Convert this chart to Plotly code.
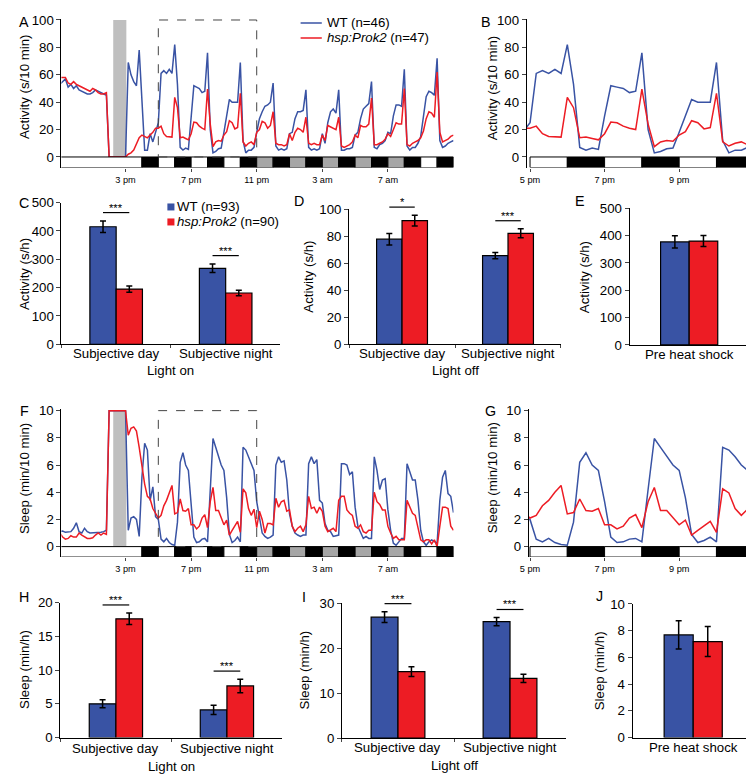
import numpy as np
import plotly.graph_objects as go

W, H = 754, 782
# the photographed page shows the figure shrunk and shifted a little:
# picture_x = 16 + 0.979 * fig_x, picture_y = 15 + 0.981 * fig_y.
# positions below are given in picture pixels and mapped back.
SX, OX = 0.979, 16
SY, OY = 0.981, 15
FS = 1.02
BLUE = '#3953A4'
RED = '#ED1C24'
FONT = 'Liberation Sans, Arial, sans-serif'

# ---------- time course data, 10 min bins starting 11 am ----------
# activity (s/10 min)
act_wt_pre = [53, 55, 57, 51, 53, 50, 52, 49, 48, 47, 46, 46, 47, 49, 48, 47, 46, 45]
act_mut_pre = [58, 58, 58, 54, 53, 55, 53, 52, 51, 50, 49, 48, 50, 49, 47, 46, 46, 47]
act_wt_hs = [0, 0, 0, 0, 0, 0, 0]
act_mut_hs = [0, 0, 0, 0, 0, 0, 0]
act_wt_post = [69, 60, 55, 52, 78, 40, 5, 5, 17, 11, 19]
act_mut_post = [2, 3, 5, 10, 14, 16, 15, 14, 16, 18, 21]
# 5 pm - 11 pm (panel B)
act_wt_zoom = [25, 61, 63, 61, 64, 61, 82, 53, 7, 5, 6.5, 5.5,
               30, 52, 51, 50, 47, 48, 76, 20, 3, 4, 6, 6.5,
               18, 30, 42, 40, 40, 40, 69, 12, 3, 5, 5, 7, 18]
act_mut_zoom = [21, 22.5, 17, 15, 14.5, 14.5, 43.5, 36, 14, 14.5, 13.5, 12.5,
                17, 25.5, 25, 22.5, 21, 20, 49.5, 24, 7.5, 11, 12, 11.5,
                16, 18.5, 26.5, 25, 20.5, 21.5, 46.5, 11, 8, 10, 11, 9, 18]
act_wt_night = [28, 33, 37, 38, 40, 54, 8, 5, 6, 5, 6,
                17, 18, 28, 33, 33, 34, 49, 7, 5, 6, 5, 6,
                17, 10, 25, 33, 35, 32, 49, 5, 5, 6, 6, 7,
                16, 18, 28, 35, 37, 39, 55, 7, 6, 9, 10, 12,
                18, 17, 30, 38, 38, 37, 64, 8, 5, 7, 7, 10,
                15, 30, 44, 48, 47, 45, 72, 12, 7, 8, 10, 11, 12]
act_mut_night = [20, 26, 25, 21, 23, 33, 10, 9, 9, 8, 9,
                 17, 12, 18, 21, 20, 18, 29, 10, 9, 10, 9, 9,
                 16, 12, 23, 22, 21, 20, 29, 8, 7, 8, 9, 11,
                 16, 14, 23, 22, 22, 24, 43, 9, 9, 10, 11, 13,
                 17, 15, 20, 25, 24, 24, 50, 9, 8, 10, 11, 12,
                 14, 19, 28, 33, 32, 29, 62, 18, 11, 12, 13, 15, 16]

# sleep (min/10 min)
sl_wt_pre = [1.1, 1.15, 1.05, 1.1, 1.1, 1.35, 1.75, 1.1, 1.0, 1.35, 1.1, 1.0, 1.0, 1.05, 1.0, 1.05, 1.1, 1.2]
sl_mut_pre = [1.0, 0.7, 0.55, 0.6, 0.8, 0.7, 0.7, 1.0, 0.85, 0.75, 0.6, 0.6, 0.65, 0.85, 1.0, 0.85, 1.0, 0.9]
sl_wt_hs = [10, 10, 10, 10, 10, 10, 10]
sl_mut_hs = [10, 10, 10, 10, 10, 10, 10]
sl_wt_post = [1.2, 2.1, 2.2, 2.0, 0.75, 5.1, 7.6, 7.1, 3.4, 4.4, 2.2]
sl_mut_post = [8.2, 8.7, 8.8, 8.5, 7.3, 5.9, 4.6, 3.7, 3.5, 2.8, 2.5]
sl_wt_zoom = [2.0, 0.55, 0.35, 0.6, 0.3, 0.15, 0.1, 1.8, 6.2, 6.9, 6.0, 5.6,
              3.3, 0.7, 0.3, 0.35, 0.55, 0.6, 0.35, 4.2, 7.95, 7.3, 6.6, 6.0,
              5.6, 3.6, 0.9, 0.3, 0.45, 0.7, 0.35, 7.3, 7.1, 6.6, 6.0, 5.6, 3.3]
sl_mut_zoom = [2.1, 2.3, 3.0, 3.4, 4.0, 4.5, 2.4, 2.5, 3.5, 2.65, 2.6, 2.8,
               1.6, 1.6, 1.3, 1.5, 2.1, 2.35, 1.4, 3.3, 4.35, 2.65, 2.65, 2.15,
               1.6, 1.95, 0.85, 1.2, 1.55, 1.85, 1.05, 4.25, 3.95, 2.8, 2.3, 2.75, 1.4]
sl_wt_night = [2.0, 1.0, 0.75, 0.6, 0.7, 0.85, 6.0, 6.6, 6.2, 6.3, 4.9,
               2.4, 1.5, 1.0, 0.85, 0.75, 0.85, 0.85, 6.1, 6.6, 6.1, 6.4, 3.4,
               3.2, 1.7, 1.2, 1.1, 0.75, 0.8, 0.85, 6.1, 6.1, 6.0, 5.3, 5.5,
               2.9, 1.5, 1.0, 0.6, 0.75, 0.6, 0.6, 6.6, 5.6, 4.2, 4.9, 5.0,
               2.7, 1.2, 0.25, 0.1, 0.35, 0.6, 0.6, 6.1, 5.5, 4.9, 4.9, 3.4,
               1.2, 0.35, 0.1, 0.35, 0.5, 0.4, 0.25, 3.4, 5.1, 5.6, 3.9, 3.7, 2.5]
sl_mut_night = [2.6, 2.0, 1.0, 1.7, 1.7, 1.6, 3.55, 2.9, 3.3, 3.4, 2.6,
                2.7, 1.5, 1.1, 1.35, 1.5, 1.1, 1.6, 3.7, 2.8, 2.9, 2.45, 2.9,
                2.6, 1.5, 1.1, 1.2, 1.35, 1.1, 3.4, 3.7, 3.7, 2.7, 2.45, 2.3,
                1.5, 1.35, 1.6, 1.1, 1.0, 1.2, 1.2, 4.0, 3.3, 3.1, 2.7, 2.7,
                1.5, 1.0, 0.6, 0.75, 0.5, 0.5, 0.5, 3.4, 2.9, 2.45, 2.3, 1.35,
                0.5, 0.35, 0.5, 0.5, 0.2, 0.5, 0.0, 1.5, 2.9, 2.9, 2.8, 1.5, 1.2]

act_wt = act_wt_pre + act_wt_hs + act_wt_post + act_wt_zoom + act_wt_night
act_mut = act_mut_pre + act_mut_hs + act_mut_post + act_mut_zoom + act_mut_night
sl_wt = sl_wt_pre + sl_wt_hs + sl_wt_post + sl_wt_zoom + sl_wt_night
sl_mut = sl_mut_pre + sl_mut_hs + sl_mut_post + sl_mut_zoom + sl_mut_night
hours = np.arange(len(act_wt)) / 6.0   # hours after 11 am

# light schedule, one entry per hour from 11 am: W light, B dark, G subjective day in dark
light_kind = ['W', 'W', 'W', 'W', 'W', 'B', 'W', 'B', 'W', 'B', 'W', 'B',
              'G', 'B', 'G', 'B', 'G', 'B', 'G', 'B', 'G', 'B', 'W', 'B']
heat_shock = [3.25, 4.05]
zoom_window = [6, 12]
time_ticks = [4, 8, 12, 16, 20]
time_labels = ['3 pm', '7 pm', '11 pm', '3 am', '7 am']
zoom_ticks = [6, 8, 10]
zoom_labels = ['5 pm', '7 pm', '9 pm']

# ---------- bar chart data (mean, s.e.m.) ----------
cats = ['Subjective day', 'Subjective night']
pre_cat = ['Pre heat shock']
act_on_wt, act_on_wt_err = [415, 268], [20, 15]
act_on_mut, act_on_mut_err = [195, 181], [11, 10]
act_off_wt, act_off_wt_err = [77.8, 65.6], [4.3, 2.3]
act_off_mut, act_off_mut_err = [91.6, 82.2], [4.0, 3.3]
act_pre_wt, act_pre_wt_err = [377], [22]
act_pre_mut, act_pre_mut_err = [380], [20]
sl_on_wt, sl_on_wt_err = [5.0, 4.1], [0.6, 0.7]
sl_on_mut, sl_on_mut_err = [17.6, 7.65], [0.85, 1.0]
sl_off_wt, sl_off_wt_err = [26.9, 25.9], [1.2, 0.9]
sl_off_mut, sl_off_mut_err = [14.8, 13.3], [1.1, 0.9]
sl_pre_wt, sl_pre_wt_err = [7.68], [1.06]
sl_pre_mut, sl_pre_mut_err = [7.18], [1.12]
sig_act_on = ['***', '***']
sig_act_off = ['*', '***']
sig_sl_on = ['***', '***']
sig_sl_off = ['***', '***']


def xp(p):
    return (p - OX) / SX / W


def yp(p):
    return 1 - (p - OY) / SY / H


fig = go.Figure()
shapes = []
annotations = []
layout = {}


def ann(x, y, text, size=13, **kw):
    d = dict(x=xp(x), y=yp(y), xref='paper', yref='paper', text=text, showarrow=False,
             xanchor='center', yanchor='middle',
             font=dict(family=FONT, size=size * FS, color='black'))
    d.update(kw)
    annotations.append(d)


def yaxis_cfg(px_top, px_zero, top_val, lo, hi, tickvals):
    scale = (px_zero - px_top) / top_val
    return dict(domain=[yp(px_zero - lo * scale), yp(px_zero - hi * scale)], range=[lo, hi],
                tickvals=tickvals, ticks='outside', ticklen=4, tickwidth=1, showline=True,
                linecolor='black', linewidth=1, showgrid=False, zeroline=False,
                tickfont=dict(family=FONT, size=13 * FS, color='black'))


def time_panel(n, xdom, xrange, ycfg, wt, mut, ticks, labels, full, top_val):
    xa = 'x%d' % n if n > 1 else 'x'
    ya = 'y%d' % n if n > 1 else 'y'
    ycfg['anchor'] = xa
    layout['xaxis%d' % n if n > 1 else 'xaxis'] = dict(
        domain=[xp(xdom[0]), xp(xdom[1])], range=xrange, showline=False, showgrid=False,
        zeroline=False, tickvals=ticks, ticktext=labels, ticks='outside', ticklen=3,
        tickfont=dict(family=FONT, size=9 * FS, color='black'), anchor=ya)
    layout['yaxis%d' % n if n > 1 else 'yaxis'] = ycfg
    fig.add_trace(go.Scatter(x=hours, y=wt, mode='lines', line=dict(color=BLUE, width=1.5),
                             xaxis=xa, yaxis=ya, showlegend=False))
    fig.add_trace(go.Scatter(x=hours, y=mut, mode='lines', line=dict(color=RED, width=1.5),
                             xaxis=xa, yaxis=ya, showlegend=False))
    y_lo = ycfg['range'][0]
    # light / dark bar under the x axis
    segs = []
    for h, k in enumerate(light_kind):
        if not full and not (zoom_window[0] <= h < zoom_window[1]):
            continue
        if segs and segs[-1][2] == k and segs[-1][1] == h:
            segs[-1][1] = h + 1
        else:
            segs.append([h, h + 1, k])
    fill = {'W': 'white', 'B': 'black', 'G': '#A6A6A6'}
    for s0, s1, k in segs:
        shapes.append(dict(type='rect', xref=xa, yref=ya, x0=s0, x1=s1, y0=y_lo, y1=0,
                           fillcolor=fill[k], line=dict(color='black', width=1)))
    if full:
        shapes.append(dict(type='rect', xref=xa, yref=ya, x0=heat_shock[0], x1=heat_shock[1],
                           y0=0, y1=top_val, fillcolor='#BFBFBF', line=dict(width=0), layer='below'))
        shapes.append(dict(type='rect', xref=xa, yref=ya, x0=zoom_window[0], x1=zoom_window[1],
                           y0=0, y1=top_val, line=dict(color='#444444', width=1, dash='dash')))


# A and B: activity
time_panel(1, [60, 448.5], [0.09, 24.0], yaxis_cfg(20, 157, 100, -7.7, 101, [0, 20, 40, 60, 80, 100]),
           act_wt, act_mut, time_ticks, time_labels, True, 100)
time_panel(2, [521, 746], [5.91, 12.0], yaxis_cfg(20, 157, 100, -7.7, 101, [0, 20, 40, 60, 80, 100]),
           act_wt, act_mut, zoom_ticks, zoom_labels, False, 100)
# F and G: sleep
time_panel(6, [60, 448.5], [0.09, 24.0], yaxis_cfg(410.7, 546.7, 10, -0.77, 10.12, [0, 2, 4, 6, 8, 10]),
           sl_wt, sl_mut, time_ticks, time_labels, True, 10)
time_panel(7, [523, 746], [5.965, 12.0], yaxis_cfg(410.7, 546.7, 10, -0.77, 10.12, [0, 2, 4, 6, 8, 10]),
           sl_wt, sl_mut, zoom_ticks, zoom_labels, False, 10)


def bar_panel(n, xdom, ytop, yzero, ymax, step, categories, wt, wt_err, mut, mut_err,
              label_y, sig=None):
    xa, ya = 'x%d' % n, 'y%d' % n
    multi = len(categories) > 1
    layout['xaxis%d' % n] = dict(domain=[xp(xdom[0]), xp(xdom[1])], range=[-0.5, len(categories) - 0.5],
                                 showline=True, linecolor='black', linewidth=1, showgrid=False,
                                 ticks='outside' if multi else '', tickson='boundaries', ticklen=3,
                                 showticklabels=False, anchor=ya)
    layout['yaxis%d' % n] = dict(domain=[yp(yzero), yp(ytop)], range=[0, ymax],
                                 tickvals=list(np.arange(0, ymax + step / 2, step)), ticks='outside',
                                 ticklen=4, showline=True, linecolor='black', linewidth=1, showgrid=False,
                                 zeroline=False, tickfont=dict(family=FONT, size=13 * FS, color='black'),
                                 anchor=xa)
    for vals, errs, col in [(wt, wt_err, BLUE), (mut, mut_err, RED)]:
        fig.add_trace(go.Bar(x=categories, y=vals, xaxis=xa, yaxis=ya, showlegend=False,
                             marker=dict(color=col, line=dict(color='black', width=1.2)),
                             error_y=dict(type='data', array=errs, color='black', thickness=1.5, width=3)))
    cw = (xdom[1] - xdom[0]) / len(categories)
    for k, c_name in enumerate(categories):
        c = xdom[0] + (k + 0.5) * cw
        ann(c, label_y, c_name)
        if sig:
            top = max(wt[k] + wt_err[k], mut[k] + mut_err[k]) + 0.06 * ymax
            ypx = yzero - top * (yzero - ytop) / ymax
            shapes.append(dict(type='line', xref='paper', yref='paper', x0=xp(c - 0.12 * cw),
                               x1=xp(c + 0.12 * cw), y0=yp(ypx), y1=yp(ypx),
                               line=dict(color='black', width=1.2)))
            ann(c, ypx, sig[k], size=11, yanchor='bottom', yshift=-3)


bar_panel(3, [60, 277], 202.7, 344.3, 500, 100, cats, act_on_wt, act_on_wt_err,
          act_on_mut, act_on_mut_err, 354, sig_act_on)
bar_panel(4, [345, 555], 209.3, 344.3, 100, 20, cats, act_off_wt, act_off_wt_err,
          act_off_mut, act_off_mut_err, 354, sig_act_off)
bar_panel(5, [623, 741], 208.3, 345, 500, 100, pre_cat, act_pre_wt, act_pre_wt_err,
          act_pre_mut, act_pre_mut_err, 355)
bar_panel(8, [59, 279], 602.7, 737.7, 20, 5, cats, sl_on_wt, sl_on_wt_err,
          sl_on_mut, sl_on_mut_err, 749, sig_sl_on)
bar_panel(9, [338, 560], 603.3, 738.3, 30, 10, cats, sl_off_wt, sl_off_wt_err,
          sl_off_mut, sl_off_mut_err, 748, sig_sl_off)
bar_panel(10, [626, 746], 604, 737.7, 10, 2, pre_cat, sl_pre_wt, sl_pre_wt_err,
          sl_pre_mut, sl_pre_mut_err, 748)

# axis titles
for x, y, t in [(24, 87, 'Activity (s/10 min)'), (488, 88, 'Activity (s/10 min)'),
                (24, 274, 'Activity (s/h)'), (305, 277, 'Activity (s/h)'), (579, 277, 'Activity (s/h)'),
                (24, 479, 'Sleep (min/10 min)'), (488, 478, 'Sleep (min/10 min)'),
                (24, 670, 'Sleep (min/h)'), (301, 670, 'Sleep (min/h)'), (594, 671, 'Sleep (min/h)')]:
    ann(x, y, t, textangle=-90)

# group labels under the bar charts
ann(168.5, 371, 'Light on')
ann(450, 371, 'Light off')
ann(169, 767, 'Light on')
ann(449, 766, 'Light off')

# panel letters
for x, y, t in [(23, 22, 'A'), (481, 22, 'B'), (23, 203, 'C'), (295, 201, 'D'), (574, 201, 'E'),
                (23, 411, 'F'), (485, 411, 'G'), (23, 597, 'H'), (300, 597, 'I'), (593, 596, 'J')]:
    ann(x, y, t, size=14)

# legend for time courses
for y, col, t in [(23, BLUE, 'WT (n=46)'), (38, RED, '<i>hsp:Prok2</i> (n=47)')]:
    shapes.append(dict(type='line', xref='paper', yref='paper', x0=xp(297), x1=xp(318),
                       y0=yp(y), y1=yp(y), line=dict(color=col, width=1.5)))
    ann(321, y, t, xanchor='left')

# legend for bar charts
for y, col, t in [(207, BLUE, 'WT (n=93)'), (222, RED, '<i>hsp:Prok2</i> (n=90)')]:
    shapes.append(dict(type='rect', xref='paper', yref='paper', x0=xp(165), x1=xp(172),
                       y0=yp(y + 3.5), y1=yp(y - 3.5), fillcolor=col, line=dict(width=0)))
    ann(173, y, t, xanchor='left')

fig.update_layout(width=W, height=H, margin=dict(l=0, r=0, t=0, b=0),
                  paper_bgcolor='white', plot_bgcolor='white',
                  barmode='group', bargap=0.52, bargroupgap=0,
                  font=dict(family=FONT, size=13, color='black'),
                  shapes=shapes, annotations=annotations, showlegend=False, **layout)

fig.write_html('out.html')
